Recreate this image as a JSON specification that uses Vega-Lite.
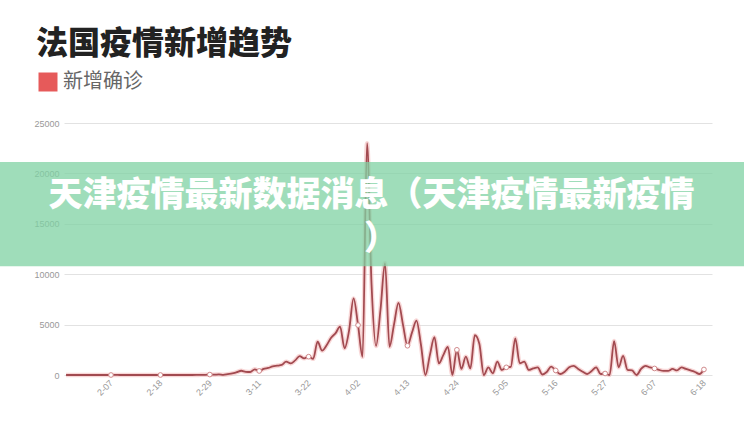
{
  "$schema": "https://vega.github.io/schema/vega-lite/v6.json",
  "width": 648,
  "height": 252,
  "autosize": "none",
  "padding": {"left": 64, "top": 123, "right": 32, "bottom": 53},
  "background": "#ffffff",
  "title": {
    "text": "法国疫情新增趋势",
    "anchor": "start",
    "frame": "group",
    "font": "Noto Sans CJK SC",
    "fontSize": 32,
    "fontWeight": 900,
    "color": "#222222",
    "dx": -28,
    "offset": 11
  },
  "config": {
    "view": {"stroke": null},
    "font": "Liberation Sans"
  },
  "datasets": {
    "cases": [
      {"date": "2020-01-28", "cases": 1}, {"date": "2020-01-29", "cases": 0}, {"date": "2020-01-30", "cases": 1}, {"date": "2020-01-31", "cases": 0},
      {"date": "2020-02-01", "cases": 0}, {"date": "2020-02-02", "cases": 0}, {"date": "2020-02-03", "cases": 0}, {"date": "2020-02-04", "cases": 0},
      {"date": "2020-02-05", "cases": 0}, {"date": "2020-02-06", "cases": 0}, {"date": "2020-02-07", "cases": 0}, {"date": "2020-02-08", "cases": 5},
      {"date": "2020-02-09", "cases": 0}, {"date": "2020-02-10", "cases": 0}, {"date": "2020-02-11", "cases": 0}, {"date": "2020-02-12", "cases": 0},
      {"date": "2020-02-13", "cases": 0}, {"date": "2020-02-14", "cases": 0}, {"date": "2020-02-15", "cases": 1}, {"date": "2020-02-16", "cases": 0},
      {"date": "2020-02-17", "cases": 0}, {"date": "2020-02-18", "cases": 0}, {"date": "2020-02-19", "cases": 0}, {"date": "2020-02-20", "cases": 0},
      {"date": "2020-02-21", "cases": 0}, {"date": "2020-02-22", "cases": 0}, {"date": "2020-02-23", "cases": 0}, {"date": "2020-02-24", "cases": 0},
      {"date": "2020-02-25", "cases": 2}, {"date": "2020-02-26", "cases": 4}, {"date": "2020-02-27", "cases": 20}, {"date": "2020-02-28", "cases": 19},
      {"date": "2020-02-29", "cases": 43},
      {"date": "2020-03-01", "cases": 30}, {"date": "2020-03-02", "cases": 61}, {"date": "2020-03-03", "cases": 13}, {"date": "2020-03-04", "cases": 81},
      {"date": "2020-03-05", "cases": 150}, {"date": "2020-03-06", "cases": 280}, {"date": "2020-03-07", "cases": 420}, {"date": "2020-03-08", "cases": 320},
      {"date": "2020-03-09", "cases": 300}, {"date": "2020-03-10", "cases": 560}, {"date": "2020-03-11", "cases": 400}, {"date": "2020-03-12", "cases": 600},
      {"date": "2020-03-13", "cases": 700}, {"date": "2020-03-14", "cases": 850}, {"date": "2020-03-15", "cases": 920}, {"date": "2020-03-16", "cases": 1000},
      {"date": "2020-03-17", "cases": 1320}, {"date": "2020-03-18", "cases": 1150}, {"date": "2020-03-19", "cases": 1450}, {"date": "2020-03-20", "cases": 1880},
      {"date": "2020-03-21", "cases": 1650}, {"date": "2020-03-22", "cases": 1820}, {"date": "2020-03-23", "cases": 1600}, {"date": "2020-03-24", "cases": 3300},
      {"date": "2020-03-25", "cases": 2420}, {"date": "2020-03-26", "cases": 2950}, {"date": "2020-03-27", "cases": 3700}, {"date": "2020-03-28", "cases": 4150},
      {"date": "2020-03-29", "cases": 4800}, {"date": "2020-03-30", "cases": 2650}, {"date": "2020-03-31", "cases": 4400},
      {"date": "2020-04-01", "cases": 7600}, {"date": "2020-04-02", "cases": 4950}, {"date": "2020-04-03", "cases": 1800}, {"date": "2020-04-04", "cases": 23000},
      {"date": "2020-04-05", "cases": 9000}, {"date": "2020-04-06", "cases": 2880}, {"date": "2020-04-07", "cases": 6500}, {"date": "2020-04-08", "cases": 11100},
      {"date": "2020-04-09", "cases": 2800}, {"date": "2020-04-10", "cases": 5000}, {"date": "2020-04-11", "cases": 7150}, {"date": "2020-04-12", "cases": 5000},
      {"date": "2020-04-13", "cases": 2900}, {"date": "2020-04-14", "cases": 4200}, {"date": "2020-04-15", "cases": 5400}, {"date": "2020-04-16", "cases": 3000},
      {"date": "2020-04-17", "cases": 0}, {"date": "2020-04-18", "cases": 2000}, {"date": "2020-04-19", "cases": 3750}, {"date": "2020-04-20", "cases": 1150},
      {"date": "2020-04-21", "cases": 2000}, {"date": "2020-04-22", "cases": 2800}, {"date": "2020-04-23", "cases": 0}, {"date": "2020-04-24", "cases": 2500},
      {"date": "2020-04-25", "cases": 600}, {"date": "2020-04-26", "cases": 1820}, {"date": "2020-04-27", "cases": 650}, {"date": "2020-04-28", "cases": 3950},
      {"date": "2020-04-29", "cases": 3100}, {"date": "2020-04-30", "cases": 0},
      {"date": "2020-05-01", "cases": 760}, {"date": "2020-05-02", "cases": 170}, {"date": "2020-05-03", "cases": 1320}, {"date": "2020-05-04", "cases": 500},
      {"date": "2020-05-05", "cases": 760}, {"date": "2020-05-06", "cases": 800}, {"date": "2020-05-07", "cases": 3640}, {"date": "2020-05-08", "cases": 1160},
      {"date": "2020-05-09", "cases": 1320}, {"date": "2020-05-10", "cases": 500}, {"date": "2020-05-11", "cases": 650}, {"date": "2020-05-12", "cases": 760},
      {"date": "2020-05-13", "cases": 50}, {"date": "2020-05-14", "cases": 300}, {"date": "2020-05-15", "cases": 830}, {"date": "2020-05-16", "cases": 450},
      {"date": "2020-05-17", "cases": 100}, {"date": "2020-05-18", "cases": 330}, {"date": "2020-05-19", "cases": 760}, {"date": "2020-05-20", "cases": 900},
      {"date": "2020-05-21", "cases": 600}, {"date": "2020-05-22", "cases": 330}, {"date": "2020-05-23", "cases": 100}, {"date": "2020-05-24", "cases": 400},
      {"date": "2020-05-25", "cases": 760}, {"date": "2020-05-26", "cases": 100}, {"date": "2020-05-27", "cases": 150}, {"date": "2020-05-28", "cases": 0},
      {"date": "2020-05-29", "cases": 3370}, {"date": "2020-05-30", "cases": 760}, {"date": "2020-05-31", "cases": 1890},
      {"date": "2020-06-01", "cases": 500}, {"date": "2020-06-02", "cases": 450}, {"date": "2020-06-03", "cases": 0}, {"date": "2020-06-04", "cases": 600},
      {"date": "2020-06-05", "cases": 900}, {"date": "2020-06-06", "cases": 750}, {"date": "2020-06-07", "cases": 650}, {"date": "2020-06-08", "cases": 500},
      {"date": "2020-06-09", "cases": 400}, {"date": "2020-06-10", "cases": 400}, {"date": "2020-06-11", "cases": 600}, {"date": "2020-06-12", "cases": 450},
      {"date": "2020-06-13", "cases": 750}, {"date": "2020-06-14", "cases": 600}, {"date": "2020-06-15", "cases": 450}, {"date": "2020-06-16", "cases": 300},
      {"date": "2020-06-17", "cases": 100}, {"date": "2020-06-18", "cases": 550}
    ],
    "banner": [
      {"headline": "天津疫情最新数据消息（天津疫情最新疫情）"}
    ]
  },
  "layer": [
    {
      "data": {"name": "cases"},
      "encoding": {
        "x": {
          "field": "date",
          "type": "temporal",
          "scale": {
            "type": "utc",
            "domain": [
              {"year": 2020, "month": 1, "date": 27, "hours": 13, "utc": true},
              {"year": 2020, "month": 6, "date": 19, "hours": 19, "utc": true}
            ]
          },
          "axis": {
            "title": null,
            "values": [
              {"year": 2020, "month": 2, "date": 7, "utc": true},
              {"year": 2020, "month": 2, "date": 18, "utc": true},
              {"year": 2020, "month": 2, "date": 29, "utc": true},
              {"year": 2020, "month": 3, "date": 11, "utc": true},
              {"year": 2020, "month": 3, "date": 22, "utc": true},
              {"year": 2020, "month": 4, "date": 2, "utc": true},
              {"year": 2020, "month": 4, "date": 13, "utc": true},
              {"year": 2020, "month": 4, "date": 24, "utc": true},
              {"year": 2020, "month": 5, "date": 5, "utc": true},
              {"year": 2020, "month": 5, "date": 16, "utc": true},
              {"year": 2020, "month": 5, "date": 27, "utc": true},
              {"year": 2020, "month": 6, "date": 7, "utc": true},
              {"year": 2020, "month": 6, "date": 18, "utc": true}
            ],
            "format": "%-m-%d",
            "labelAngle": -45,
            "labelAlign": "right",
            "labelBaseline": "middle",
            "labelFontSize": 9,
            "labelColor": "#999999",
            "labelPadding": 6,
            "domain": false,
            "ticks": false,
            "grid": false
          }
        },
        "y": {
          "field": "cases",
          "type": "quantitative",
          "scale": {"domain": [0, 25000], "nice": false},
          "axis": {
            "title": null,
            "values": [0, 5000, 10000, 15000, 20000, 25000],
            "format": "d",
            "domain": false,
            "ticks": false,
            "labelFontSize": 9,
            "labelColor": "#999999",
            "labelPadding": 5,
            "gridColor": "#e2e2e2",
            "gridWidth": 1
          }
        }
      },
      "layer": [
        {
          "mark": {"type": "line", "interpolate": "monotone", "stroke": "#f4bcbc", "strokeWidth": 4.5, "opacity": 0.6}
        },
        {
          "mark": {"type": "line", "interpolate": "monotone", "strokeWidth": 1.8},
          "encoding": {
            "stroke": {
              "datum": "新增确诊",
              "type": "nominal",
              "scale": {"range": ["#a24a50"]},
              "legend": {
                "orient": "none",
                "legendX": -26,
                "legendY": -51,
                "title": null,
                "padding": 0,
                "symbolType": "square",
                "symbolSize": 361,
                "labelFont": "Noto Sans CJK SC",
                "labelFontSize": 20,
                "labelColor": "#666666",
                "labelOffset": 5,
                "encode": {
                  "symbols": {"update": {"fill": {"value": "#e65a5a"}, "stroke": {"value": "#e65a5a"}, "strokeWidth": {"value": 0}, "opacity": {"value": 1}}}
                }
              }
            }
          }
        },
        {
          "transform": [
            {"filter": "time(datum.date) >= utc(2020,1,7) && (time(datum.date) - utc(2020,1,7)) % 950400000 == 0"}
          ],
          "mark": {"type": "point", "filled": true, "fill": "#ffffff", "stroke": "#d08a8c", "strokeWidth": 1, "size": 22, "opacity": 1}
        }
      ]
    },
    {
      "data": {"name": "banner"},
      "mark": {"type": "rect", "fill": "#7fd1a3", "opacity": 0.75},
      "encoding": {
        "x": {"datum": 1578873600000, "type": "temporal"},
        "x2": {"datum": 1593302400000},
        "y": {"datum": 21130, "type": "quantitative"},
        "y2": {"datum": 10800}
      }
    },
    {
      "data": {"name": "banner"},
      "mark": {
        "type": "text",
        "text": "天津疫情最新数据消息（天津疫情最新疫情",
        "font": "Noto Sans CJK SC",
        "fontSize": 34,
        "fontWeight": 900,
        "fill": "#ffffff",
        "align": "center",
        "baseline": "alphabetic"
      },
      "encoding": {
        "x": {"datum": 1586044800000, "type": "temporal"},
        "y": {"datum": 16765, "type": "quantitative"}
      }
    },
    {
      "data": {"name": "banner"},
      "mark": {
        "type": "text",
        "text": "）",
        "font": "Noto Sans CJK SC",
        "fontSize": 34,
        "fontWeight": 900,
        "fill": "#ffffff",
        "align": "center",
        "baseline": "alphabetic"
      },
      "encoding": {
        "x": {"datum": 1586224800000, "type": "temporal"},
        "y": {"datum": 12400, "type": "quantitative"}
      }
    }
  ]
}
